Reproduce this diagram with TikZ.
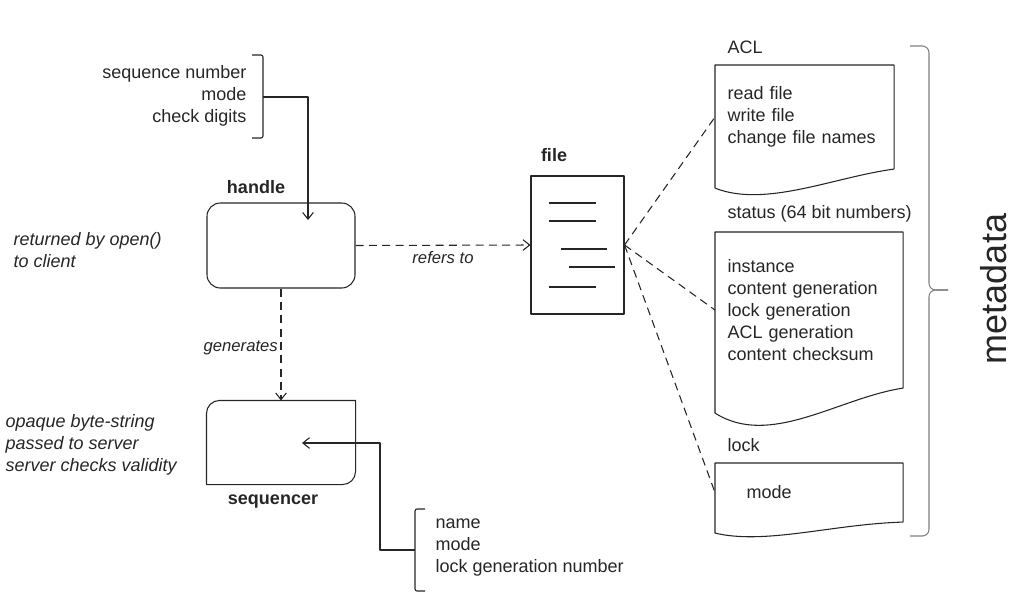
\documentclass[tikz,border=0pt]{standalone}
\usepackage{fontspec}
\setmainfont{Liberation Sans}
\usetikzlibrary{arrows.meta,calc}
\tikzset{
  txt/.style={font=\fontsize{13.5}{16.5}\selectfont,inner sep=0pt},
  note/.style={txt,font=\fontsize{13.5}{16.5}\selectfont\itshape},
  ttl/.style={txt,font=\fontsize{13.5}{16.5}\selectfont\bfseries},
  lbl/.style={inner sep=0pt,font=\fontsize{12.5}{15}\selectfont\itshape},
  docbox/.style={txt,anchor=north west,align=left,inner ysep=0pt},
  arr/.style={-{Straight Barb[length=5pt,width=8pt]}},
  dashline/.style={dash pattern=on 6pt off 4pt},
}
\begin{document}
\begin{tikzpicture}[x=0.75pt,y=-0.75pt,line width=0.8pt,color=black!85,line join=round]
  \useasboundingbox (0,0) rectangle (1027,611);
  % handle and sequencer
  \node[draw,rounded corners=10pt,minimum width=111pt,minimum height=63.75pt] (handle) at (281,245.5) {};
  \node[ttl] (handlename) at (256,187) {handle};
  \node[minimum width=111pt,minimum height=62.25pt] (seq) at (281,442.5) {};
  \draw (seq.north east) -- ($(seq.south east)+(0,-13)$) arc[start angle=0,end angle=-90,radius=9.75pt]
    -- (seq.south west) -- ($(seq.north west)+(0,13)$) arc[start angle=180,end angle=90,radius=9.75pt] -- cycle;
  \node[ttl] (seqname) at (273,502) {sequencer};
  \node[note,anchor=west,align=left] (returned) at (13,250) {returned by open()\\to client};
  \node[note,anchor=west,align=left] (opaque) at (5,445) {opaque byte-string\\passed to server\\server checks validity};

  % file
  \node[draw,minimum width=69.75pt,minimum height=103.5pt] (file) at (577.5,245) {};
  \node[ttl] (filename) at (554,155) {file};
  \foreach \a/\b/\y in {-29/18/-42,-29/18/-24,-17/29/4,-9/37/22,-29/18/42}
    \draw ($(file.center)+(\a,\y)$) -- ($(file.center)+(\b,\y)$);

  % metadata documents
  \node[txt,anchor=west] (acltitle) at (727,47) {ACL};
  \node[docbox,text width=115.5pt,inner xsep=9pt,minimum height=77.25pt] (acl) at (715,65)
    {read file\\write file\\change file names};
  \draw (acl.north west) -- (acl.north east) -- (acl.south east)
    .. controls +(-60,8) and +(50,20) .. ($(acl.south west)+(0,19)$) -- cycle;
  \node[txt,anchor=west] (statustitle) at (727,214) {status (64 bit numbers)};
  \node[docbox,text width=122.25pt,inner xsep=9pt,minimum height=116.25pt] (status) at (715,232)
    {instance\\content generation\\lock generation\\ACL generation\\content checksum};
  \draw (status.north west) -- (status.north east) -- (status.south east)
    .. controls +(-65,10) and +(55,35) .. ($(status.south west)+(0,25)$) -- cycle;
  \node[txt,anchor=west] (locktitle) at (727,445) {lock};
  \node[docbox,text width=93.75pt,inner xsep=23.25pt,minimum height=43.5pt] (lock) at (715,463) {mode};
  \draw (lock.north west) -- (lock.north east) -- (lock.south east)
    .. controls +(-70,2) and +(50,12) .. ($(lock.south west)+(0,11)$) -- cycle;

  % brackets
  \node[txt,anchor=east,align=right] (handfields) at (247,96) {sequence number\\mode\\check digits};
  \draw[rounded corners=1.5pt] (252,55) -- (263,55) -- (263,138) -- (252,138);
  \coordinate (handfrom) at (263,97);
  \coordinate (handto) at (308,220);
  \node[txt,anchor=west,align=left] (seqfields) at (435,548) {name\\mode\\lock generation number};
  \draw[rounded corners=1.5pt] (425,509) -- (415,509) -- (415,591) -- (425,591);
  \coordinate (seqfrom) at (415,550);
  \coordinate (seqto) at (302,443);
  \draw[black!50,rounded corners=5pt] (910,46) -- (929,46) -- (929,290) -- (948,290);
  \draw[black!50,rounded corners=5pt] (910,536) -- (929,536) -- (929,290) -- (948,290);
  \node[inner sep=0pt,font=\fontsize{27}{32}\selectfont,rotate=90] (meta) at (994,289) {metadata};

  % connectors
  \draw[arr] (handfrom) -| (handto);
  \draw[arr] (seqfrom) -- (380,550) |- (seqto);
  \draw[dashline,arr] (handle.east) -- node[lbl,below=4pt] {refers to} (file.west);
  \draw[dashline,arr] (handle.south) -- node[lbl,pos=0.53,left=2pt] {generates} (seq.north);
  \draw[dashline] (file.east) -- (acl.west);
  \draw[dashline] (file.east) -- (status.west);
  \draw[dashline] (file.east) -- (lock.west);
\end{tikzpicture}
\end{document}
